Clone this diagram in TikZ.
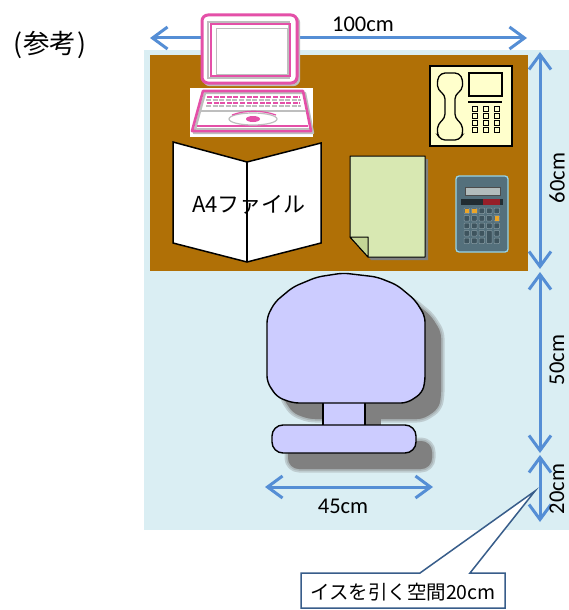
\documentclass[tikz,border=0pt]{standalone}
\usepackage{fontspec}
\setmainfont{Carlito}
\newfontfamily\jp{Noto Sans CJK JP}
\usetikzlibrary{arrows.meta,calc}
\definecolor{bgblue}{RGB}{218,238,243}
\definecolor{desk}{RGB}{176,112,6}
\definecolor{dimblue}{RGB}{85,142,213}
\definecolor{pinkc}{RGB}{228,80,168}
\definecolor{lapgray}{RGB}{190,190,190}
\definecolor{chairc}{RGB}{204,204,255}
\definecolor{shadowc}{RGB}{128,128,128}
\definecolor{paperc}{RGB}{216,232,178}
\definecolor{paperfold}{RGB}{196,214,150}
\definecolor{phonec}{RGB}{255,255,204}
\definecolor{calcc}{RGB}{84,112,124}
\definecolor{calcedge}{RGB}{150,212,234}
\definecolor{calckey}{RGB}{62,84,94}
\definecolor{calcdisp}{RGB}{178,188,188}
\definecolor{calcred}{RGB}{150,30,40}
\definecolor{calcorange}{RGB}{235,165,40}
\definecolor{calloutc}{RGB}{56,93,138}
\tikzset{
  dimline/.style={draw=dimblue, line width=3pt,
    {Straight Barb[length=15pt,width=22pt,line width=3pt]}-{Straight Barb[length=15pt,width=22pt,line width=3pt]}},
  dimlbl/.style={font=\fontsize{22.5}{24}\selectfont, inner sep=0pt, text=black},
  jplbl/.style={font=\jp\fontsize{19.5}{22}\selectfont, inner sep=0pt},
  chair/.style={fill=chairc, draw=black, line width=1.4pt, line join=round},
  softshadow/.style={fill=shadowc, draw=shadowc, line width=#1, line join=round, opacity=0.3},
  chairshadow/.style={fill=shadowc, draw=none},
  pinkline/.style={draw=pinkc, line width=2.6pt},
  grayline/.style={draw=lapgray, line width=1.6pt},
  phonekey/.style={draw=black, line width=0.9pt, fill=phonec},
  calckeystyle/.style={fill=calckey, draw=calcc!70!white, line width=0.5pt, rounded corners=0.8pt},
}
\begin{document}
\begin{tikzpicture}[x=1pt,y=-1pt]
\useasboundingbox (0,0) rectangle (569,610);
\fill[white] (0,0) rectangle (569,610);

% backgrounds
\fill[bgblue] (144,50) rectangle (569,530);
\fill[desk] (150,55) rectangle (528,271);

% title
\node[jplbl, font=\jp\fontsize{26.5}{28}\selectfont] (ref) at (50,45) {(\kern1.5pt参考\kern1.5pt)};

% top dimension
\coordinate (t1) at (150,38);
\coordinate (t2) at (527,38);
\draw[dimline] (t1) -- (t2);
\node[dimlbl] (l100) at (363,24) {100cm};

% right dimensions
\coordinate (r1) at (540,52);
\coordinate (r2) at (540,269);
\coordinate (r3) at (540,272);
\coordinate (r4) at (540,453);
\coordinate (r5) at (540,455);
\coordinate (r6) at (540,522);
\draw[dimline] (r1) -- (r2);
\draw[dimline] (r3) -- (r4);
\draw[dimline] (r5) -- (r6);
\node[dimlbl, rotate=90] (l60) at (557,178) {60cm};
\node[dimlbl, rotate=90] (l50) at (557,360) {50cm};
\node[dimlbl, rotate=90] (l20) at (557,489) {20cm};

% laptop
\fill[white] (190,88) rectangle (313,137);
\draw[grayline, line width=2.4pt, rounded corners=6pt] (204,17) rectangle (299,85);
\draw[pinkline, line width=3pt, fill=white, rounded corners=6pt] (202,15) rectangle (297,83);
\draw[grayline, line width=1.2pt] (208,22) rectangle (289,78);
\draw[draw=pinkc, line width=1.2pt] (211,24) rectangle (290,76);
\draw[grayline, line width=1pt] (216,29) rectangle (287,74);
\draw[grayline, line width=2.4pt, line join=round] (205,93) -- (305,93) -- (313,133) -- (194,133) -- cycle;
\draw[pinkline, line join=round] (203,91) -- (303,91) -- (311,131) -- (192,131) -- cycle;
\foreach \yy in {97,103} {
  \draw[draw=pinkc, line width=2pt, dash pattern=on 5pt off 1.6pt] (207,\yy) -- (300,\yy);
}
\foreach \yy in {100,106} {
  \draw[draw=lapgray, line width=1.6pt, dash pattern=on 5pt off 1.6pt] (206,\yy) -- (301,\yy);
}
\draw[grayline, line width=1.2pt] (199,111) -- (306,111);
\draw[draw=pinkc, line width=1.4pt] (197,126) -- (308,126);
\draw[grayline, line width=1.2pt] (196,129) -- (309,129);
\draw[grayline, line width=1.2pt] (253,119) ellipse [x radius=24pt, y radius=6pt];
\draw[draw=pinkc, line width=1.2pt] (232,115) .. controls (245,110) and (262,110) .. (276,115);
\fill[pinkc] (253,119) ellipse [x radius=7pt, y radius=3pt];

% A4 file
\draw[fill=white, draw=black, line width=1.5pt, line join=miter]
  (173,142) -- (247,162) -- (321,143) -- (321,243) -- (247,262) -- (173,243) -- cycle;
\draw[black, line width=1.5pt] (247,162) -- (247,262);
\node[jplbl, font=\jp\fontsize{22}{24}\selectfont] (a4) at (249,205) {A4ファイル};

% paper
\fill[shadowc] (353,159) -- (428,159) -- (428,260) -- (371,260) -- (353,240) -- cycle;
\draw[fill=paperc, draw=black, line width=1pt, line join=round]
  (350,156) -- (425,156) -- (425,257) -- (368,257) -- (350,237) -- cycle;
\draw[fill=paperfold, draw=black, line width=1pt, line join=round]
  (350,237) -- (368,237) -- (368,257) -- cycle;

% telephone
\draw[fill=phonec, draw=black, line width=1.2pt] (430,66) rectangle (512,146);
\draw[fill=phonec, draw=black, line width=1.3pt, rounded corners=4pt]
  (441,73) -- (459,73) -- (463,80) -- (462,90) -- (455,95) -- (455,118)
  -- (462,124) -- (463,134) -- (459,140) -- (441,140) -- (437,134) -- (438,124)
  -- (445,118) -- (445,95) -- (438,90) -- (437,80) -- cycle;
\draw[fill=phonec, draw=black, line width=1.2pt] (469,73) rectangle (502,96);
\fill[black] (468,100.5) rectangle (502,103);
\foreach \xx in {472,483,494} {
  \foreach \yy in {106,113,120,127} {
    \draw[phonekey] (\xx,\yy) rectangle ++(5,5);
  }
}

% calculator
\draw[fill=calcc, draw=calcedge, line width=1.3pt, rounded corners=3pt] (456,176) rectangle (508,252);
\draw[fill=calcdisp, draw=black!70, line width=0.6pt] (465,187) rectangle (500,195);
\fill[black!60!calcc] (461,199) rectangle (503,205);
\fill[calcred] (483,199) rectangle (500,205);
\foreach \xx in {464,471.5,479,494} {
  \foreach \yy in {208,215.5,223,230.5,238} {
    \draw[calckeystyle] (\xx,\yy) rectangle ++(5.5,5.5);
  }
}
\foreach \yy in {208,215.5,223} {
  \draw[calckeystyle] (486.5,\yy) rectangle ++(5.5,5.5);
}
\draw[calckeystyle] (486.5,230.5) rectangle ++(5.5,13);
\fill[calcorange] (464.5,208.5) rectangle ++(4.5,4.5);
\fill[calcorange] (472,208.5) rectangle ++(4.5,4.5);
\fill[calcorange] (494.5,216) rectangle ++(4.5,4.5);

% chair shadow (soft edges)
\begin{scope}[shift={(16,16)}]
  \foreach \lw in {7pt,3.5pt} {
    \path[softshadow=\lw, rounded corners=6pt]
      (267,317) -- (275,302) -- (293,287) -- (317,277) -- (343,273) -- (377,277) -- (397,285)
      -- (415,300) -- (425,316) -- (425,382) -- (422,393) -- (407,403) -- (293,403)
      -- (277,397) -- (267,382) -- cycle;
    \path[softshadow=\lw, rounded corners=11pt] (272,425) rectangle (416,453);
  }
  \fill[chairshadow, rounded corners=6pt]
    (267,317) -- (275,302) -- (293,287) -- (317,277) -- (343,273) -- (377,277) -- (397,285)
    -- (415,300) -- (425,316) -- (425,382) -- (422,393) -- (407,403) -- (293,403)
    -- (277,397) -- (267,382) -- cycle;
  \fill[chairshadow] (323,400) rectangle (365,426);
  \fill[chairshadow, rounded corners=11pt] (272,425) rectangle (416,453);
\end{scope}

% chair
\draw[chair] (323,400) rectangle (365,426);
\draw[chair, rounded corners=11pt] (272,425) rectangle (416,453);
\draw[chair, rounded corners=6pt]
  (267,317) -- (275,302) -- (293,287) -- (317,277) -- (343,273) -- (377,277) -- (397,285)
  -- (415,300) -- (425,316) -- (425,382) -- (422,393) -- (407,403) -- (293,403)
  -- (277,397) -- (267,382) -- cycle;

% 45cm dimension
\coordinate (c1) at (265,487);
\coordinate (c2) at (433,487);
\draw[dimline] (c1) -- (c2);
\node[dimlbl] (l45) at (343,506) {45cm};

% callout
\coordinate (tip) at (535,491);
\draw[fill=white, draw=calloutc, line width=1.5pt, line join=miter]
  (301,573) -- (420,573) -- (tip) -- (470,573) -- (505,573) -- (505,608) -- (301,608) -- cycle;
\node[jplbl] (callout) at (403,592) {イスを引く空間20cm};
\end{tikzpicture}
\end{document}
